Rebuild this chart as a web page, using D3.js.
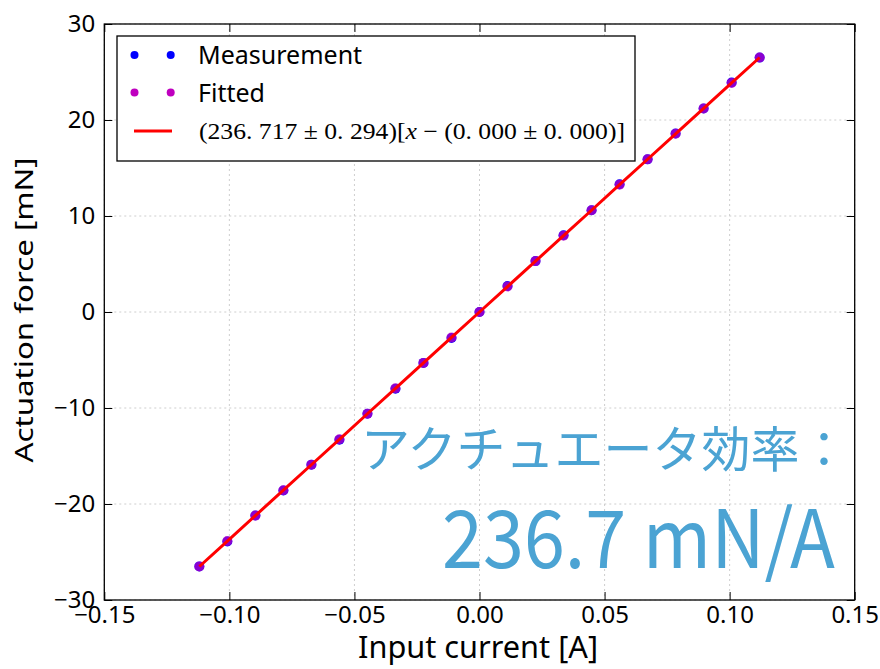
<!DOCTYPE html>
<html><head><meta charset="utf-8">
<script src="https://cdn.jsdelivr.net/npm/d3@7"></script>
<style>body{margin:0;background:#fff}</style>
</head><body>
<svg id="c" width="880" height="669"></svg>
<script>
// ---- data ----
const currentA = [-0.1120,-0.1008,-0.0896,-0.0784,-0.0672,-0.0560,-0.0448,-0.0336,-0.0224,-0.0112,0.0000,
                  0.0112,0.0224,0.0336,0.0448,0.0560,0.0672,0.0784,0.0896,0.1008,0.1120];
const forceMeasured = [-26.5,-23.9,-21.2,-18.6,-15.9,-13.3,-10.6,-8.0,-5.3,-2.7,0.0,
                       2.7,5.3,8.0,10.6,13.3,15.9,18.6,21.2,23.9,26.5];
const forceFitted = [-26.51,-23.86,-21.21,-18.56,-15.91,-13.26,-10.60,-7.95,-5.30,-2.65,0.00,
                     2.65,5.30,7.95,10.60,13.26,15.91,18.56,21.21,23.86,26.51];
const xTicks = [-0.15,-0.10,-0.05,0.00,0.05,0.10,0.15];
const xTickLabels = ["\u22120.15","\u22120.10","\u22120.05","0.00","0.05","0.10","0.15"];
const yTicks = [-30,-20,-10,0,10,20,30];
const yTickLabels = ["\u221230","\u221220","\u221210","0","10","20","30"];
const legendLabels = ["Measurement","Fitted"];
const fitParts = ["(236. 717 \u00b1 0. 294)[", "x", " \u2212 (0. 000 \u00b1 0. 000)]"];
const xLabel = "Input current [A]";
const yLabel = "Actuation force [mN]";
const noteLine1 = "アクチュエータ効率：";
const noteLine2 = "236.7 mN/A";

// ---- layout ----
const L = 104.3, R = 854.7, T = 24, B = 600;
const svg = d3.select("#c");
const x = d3.scaleLinear().domain([-0.15,0.15]).range([L,R]);
const y = d3.scaleLinear().domain([-30,30]).range([B,T]);
const sans = "'Noto Sans', 'Open Sans', sans-serif";
const cjk = "'Noto Sans CJK JP', sans-serif";

// grid
const grid = svg.append("g").attr("stroke","#c8c8c8").attr("stroke-width",0.9).attr("stroke-dasharray","2,3");
grid.selectAll(".gx").data(xTicks).join("line").attr("x1",d=>x(d)).attr("x2",d=>x(d)).attr("y1",T).attr("y2",B);
grid.selectAll(".gy").data(yTicks).join("line").attr("y1",d=>y(d)).attr("y2",d=>y(d)).attr("x1",L).attr("x2",R);

// annotation text
svg.append("text").attr("x",361).attr("y",467).attr("font-family",cjk).attr("font-size",49)
  .attr("fill","#4ba3d3").text(noteLine1);
svg.append("text").attr("x",442).attr("y",568).attr("font-family",cjk)
  .attr("font-size",80).attr("textLength",393).attr("lengthAdjust","spacingAndGlyphs")
  .attr("fill","#4ba3d3").text(noteLine2);

// points
svg.append("g").selectAll("circle").data(currentA).join("circle")
  .attr("cx",d=>x(d)).attr("cy",(d,i)=>y(forceMeasured[i])).attr("r",5).attr("fill","#0000ff");
svg.append("g").selectAll("circle").data(currentA).join("circle")
  .attr("cx",d=>x(d)).attr("cy",(d,i)=>y(forceFitted[i])).attr("r",5).attr("fill","#bf00bf").attr("fill-opacity",0.72);
// fit line
const line = d3.line().x(d=>x(d[0])).y(d=>y(d[1]));
svg.append("path").datum(currentA.map((d,i)=>[d,forceFitted[i]]))
  .attr("d",line).attr("fill","none").attr("stroke","#ff0000").attr("stroke-width",3);

// axes frame + inward ticks (matplotlib classic style)
const xb = svg.append("g").attr("transform",`translate(0,${B})`)
  .call(d3.axisBottom(x).tickValues(xTicks).tickSizeInner(-8).tickSizeOuter(0).tickFormat((d,i)=>xTickLabels[i]).tickPadding(16));
const xt = svg.append("g").attr("transform",`translate(0,${T})`)
  .call(d3.axisTop(x).tickValues(xTicks).tickSizeInner(-8).tickSizeOuter(0).tickFormat(""));
const yl = svg.append("g").attr("transform",`translate(${L},0)`)
  .call(d3.axisLeft(y).tickValues(yTicks).tickSizeInner(-8).tickSizeOuter(0).tickFormat((d,i)=>yTickLabels[i]).tickPadding(16));
const yr = svg.append("g").attr("transform",`translate(${R},0)`)
  .call(d3.axisRight(y).tickValues(yTicks).tickSizeInner(-8).tickSizeOuter(0).tickFormat(""));
[xb,xt,yl,yr].forEach(g=>{
  g.select(".domain").remove();
  g.selectAll(".tick line").attr("stroke","#000").attr("stroke-width",1);
  g.selectAll("text").attr("font-family",sans).attr("font-size",24).attr("fill","#000");
});
xb.selectAll(".tick text").attr("dy","0.71em").attr("y",6);
yl.selectAll(".tick text").attr("x",-9).attr("dy","0.32em");
svg.append("rect").attr("x",L).attr("y",T).attr("width",R-L).attr("height",B-T)
  .attr("fill","none").attr("stroke","#000").attr("stroke-width",1.3);

// axis labels
svg.append("text").attr("x",478).attr("y",658).attr("text-anchor","middle").attr("font-family",sans)
  .attr("font-size",31).attr("textLength",240).attr("lengthAdjust","spacingAndGlyphs").text(xLabel);
svg.append("text").attr("transform","translate(33,310) rotate(-90)").attr("text-anchor","middle")
  .attr("font-family",sans).attr("font-size",26).attr("textLength",305).attr("lengthAdjust","spacingAndGlyphs").text(yLabel);

// legend
const lg = svg.append("g");
lg.append("rect").attr("x",117).attr("y",36).attr("width",518).attr("height",125)
  .attr("fill","#fff").attr("stroke","#000").attr("stroke-width",1.3);
const rowsY = [55,92.5,131];
const legColors = ["#0000ff","#bf00bf"];
legendLabels.forEach((lab,i)=>{
  [134.5,170.7].forEach(cx=>lg.append("circle").attr("cx",cx).attr("cy",rowsY[i]).attr("r",4).attr("fill",legColors[i]));
  lg.append("text").attr("x",198).attr("y",rowsY[i]+9).attr("font-family",sans).attr("font-size",25).text(lab);
});
lg.append("line").attr("x1",134).attr("x2",172).attr("y1",rowsY[2]).attr("y2",rowsY[2]).attr("stroke","#ff0000").attr("stroke-width",3);
const ft = lg.append("text").attr("x",199).attr("y",rowsY[2]+8).attr("font-family","'Liberation Serif','DejaVu Serif',serif")
  .attr("font-size",23).attr("textLength",426).attr("lengthAdjust","spacingAndGlyphs");
ft.append("tspan").text(fitParts[0]);
ft.append("tspan").attr("font-style","italic").text(fitParts[1]);
ft.append("tspan").text(fitParts[2]);
</script>
</body></html>
